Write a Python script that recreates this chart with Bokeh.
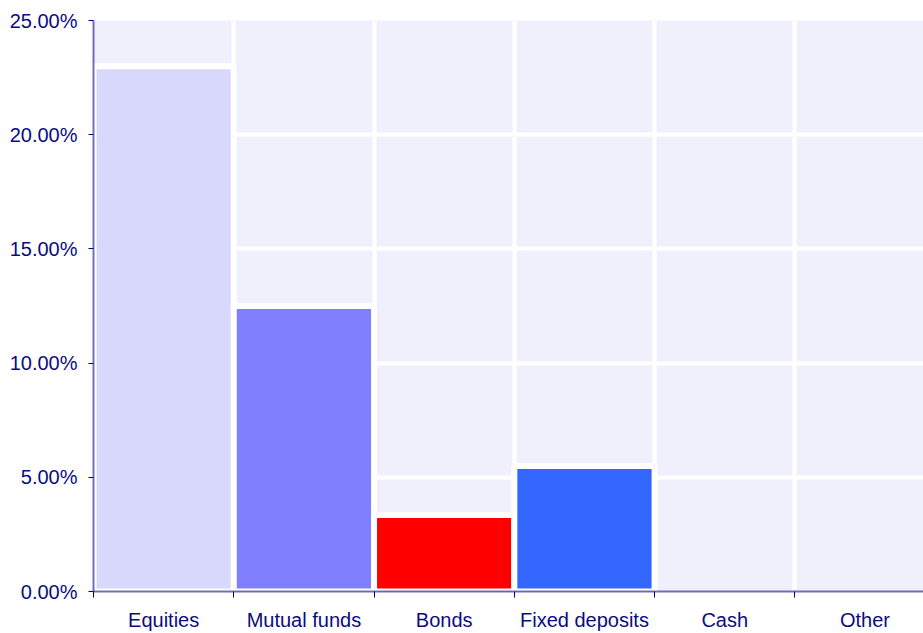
from bokeh.plotting import figure
from bokeh.models import Range1d, FixedTicker, NumeralTickFormatter, ColumnDataSource
from bokeh.embed import file_html
from bokeh.resources import INLINE

categories = ["Equities", "Mutual funds", "Bonds", "Fixed deposits", "Cash", "Other"]
shares = [0.230, 0.125, 0.0335, 0.055, 0.0, 0.0]
colors = ["#D8D8FC", "#8080FF", "#FF0000", "#3366FF", "#F0F0FC", "#F0F0FC"]
y_ticks = [0.0, 0.05, 0.10, 0.15, 0.20, 0.25]

centers = [i + 0.5 for i in range(len(categories))]
bounds = list(range(len(categories) + 1))

src = ColumnDataSource(dict(
    x=centers, top=shares, color=colors,
    line=["white" if v > 0 else None for v in shares],
))

TEXT = "#0C0C80"
FONT = "Liberation Sans"

p = figure(width=923, height=633, output_backend="svg", toolbar_location=None,
           x_range=Range1d(0, 5.917), y_range=Range1d(0, 0.25),
           min_border_left=93, min_border_right=0, min_border_top=20, min_border_bottom=42)
p.background_fill_color = "#F0F0FC"
p.border_fill_color = "white"
p.outline_line_color = None

p.vbar(x="x", top="top", bottom=0, width=1.0, source=src,
       fill_color="color", line_color="line", line_width=6)

# grids
p.xgrid.ticker = FixedTicker(ticks=bounds)
p.ygrid.ticker = FixedTicker(ticks=y_ticks)
for g in (p.xgrid[0], p.ygrid[0]):
    g.grid_line_color = "white"
    g.grid_line_width = 4
    g.grid_line_alpha = 1.0

# x axis
xa = p.xaxis[0]
xa.ticker = FixedTicker(ticks=centers, minor_ticks=bounds)
xa.major_label_overrides = {c: n for c, n in zip(centers, categories)}
xa.major_tick_out = 0
xa.major_tick_in = 0
xa.minor_tick_out = 6
xa.minor_tick_in = 0
xa.minor_tick_line_color = "#000080"
xa.major_label_standoff = 11

# y axis
ya = p.yaxis[0]
ya.ticker = FixedTicker(ticks=y_ticks)
ya.formatter = NumeralTickFormatter(format="0.00%")
ya.major_tick_out = 5
ya.major_tick_in = 0
ya.minor_tick_line_color = None
ya.major_label_standoff = 11

for ax in (xa, ya):
    ax.axis_line_color = "#000080"
    ax.axis_line_alpha = 0.55
    ax.axis_line_width = 2
    ax.major_tick_line_color = "#000080"
    ax.major_tick_line_width = 1
    ax.major_label_text_color = TEXT
    ax.major_label_text_font = FONT
    ax.major_label_text_font_size = "20px"

open("out.html", "w").write(file_html(p, INLINE))
